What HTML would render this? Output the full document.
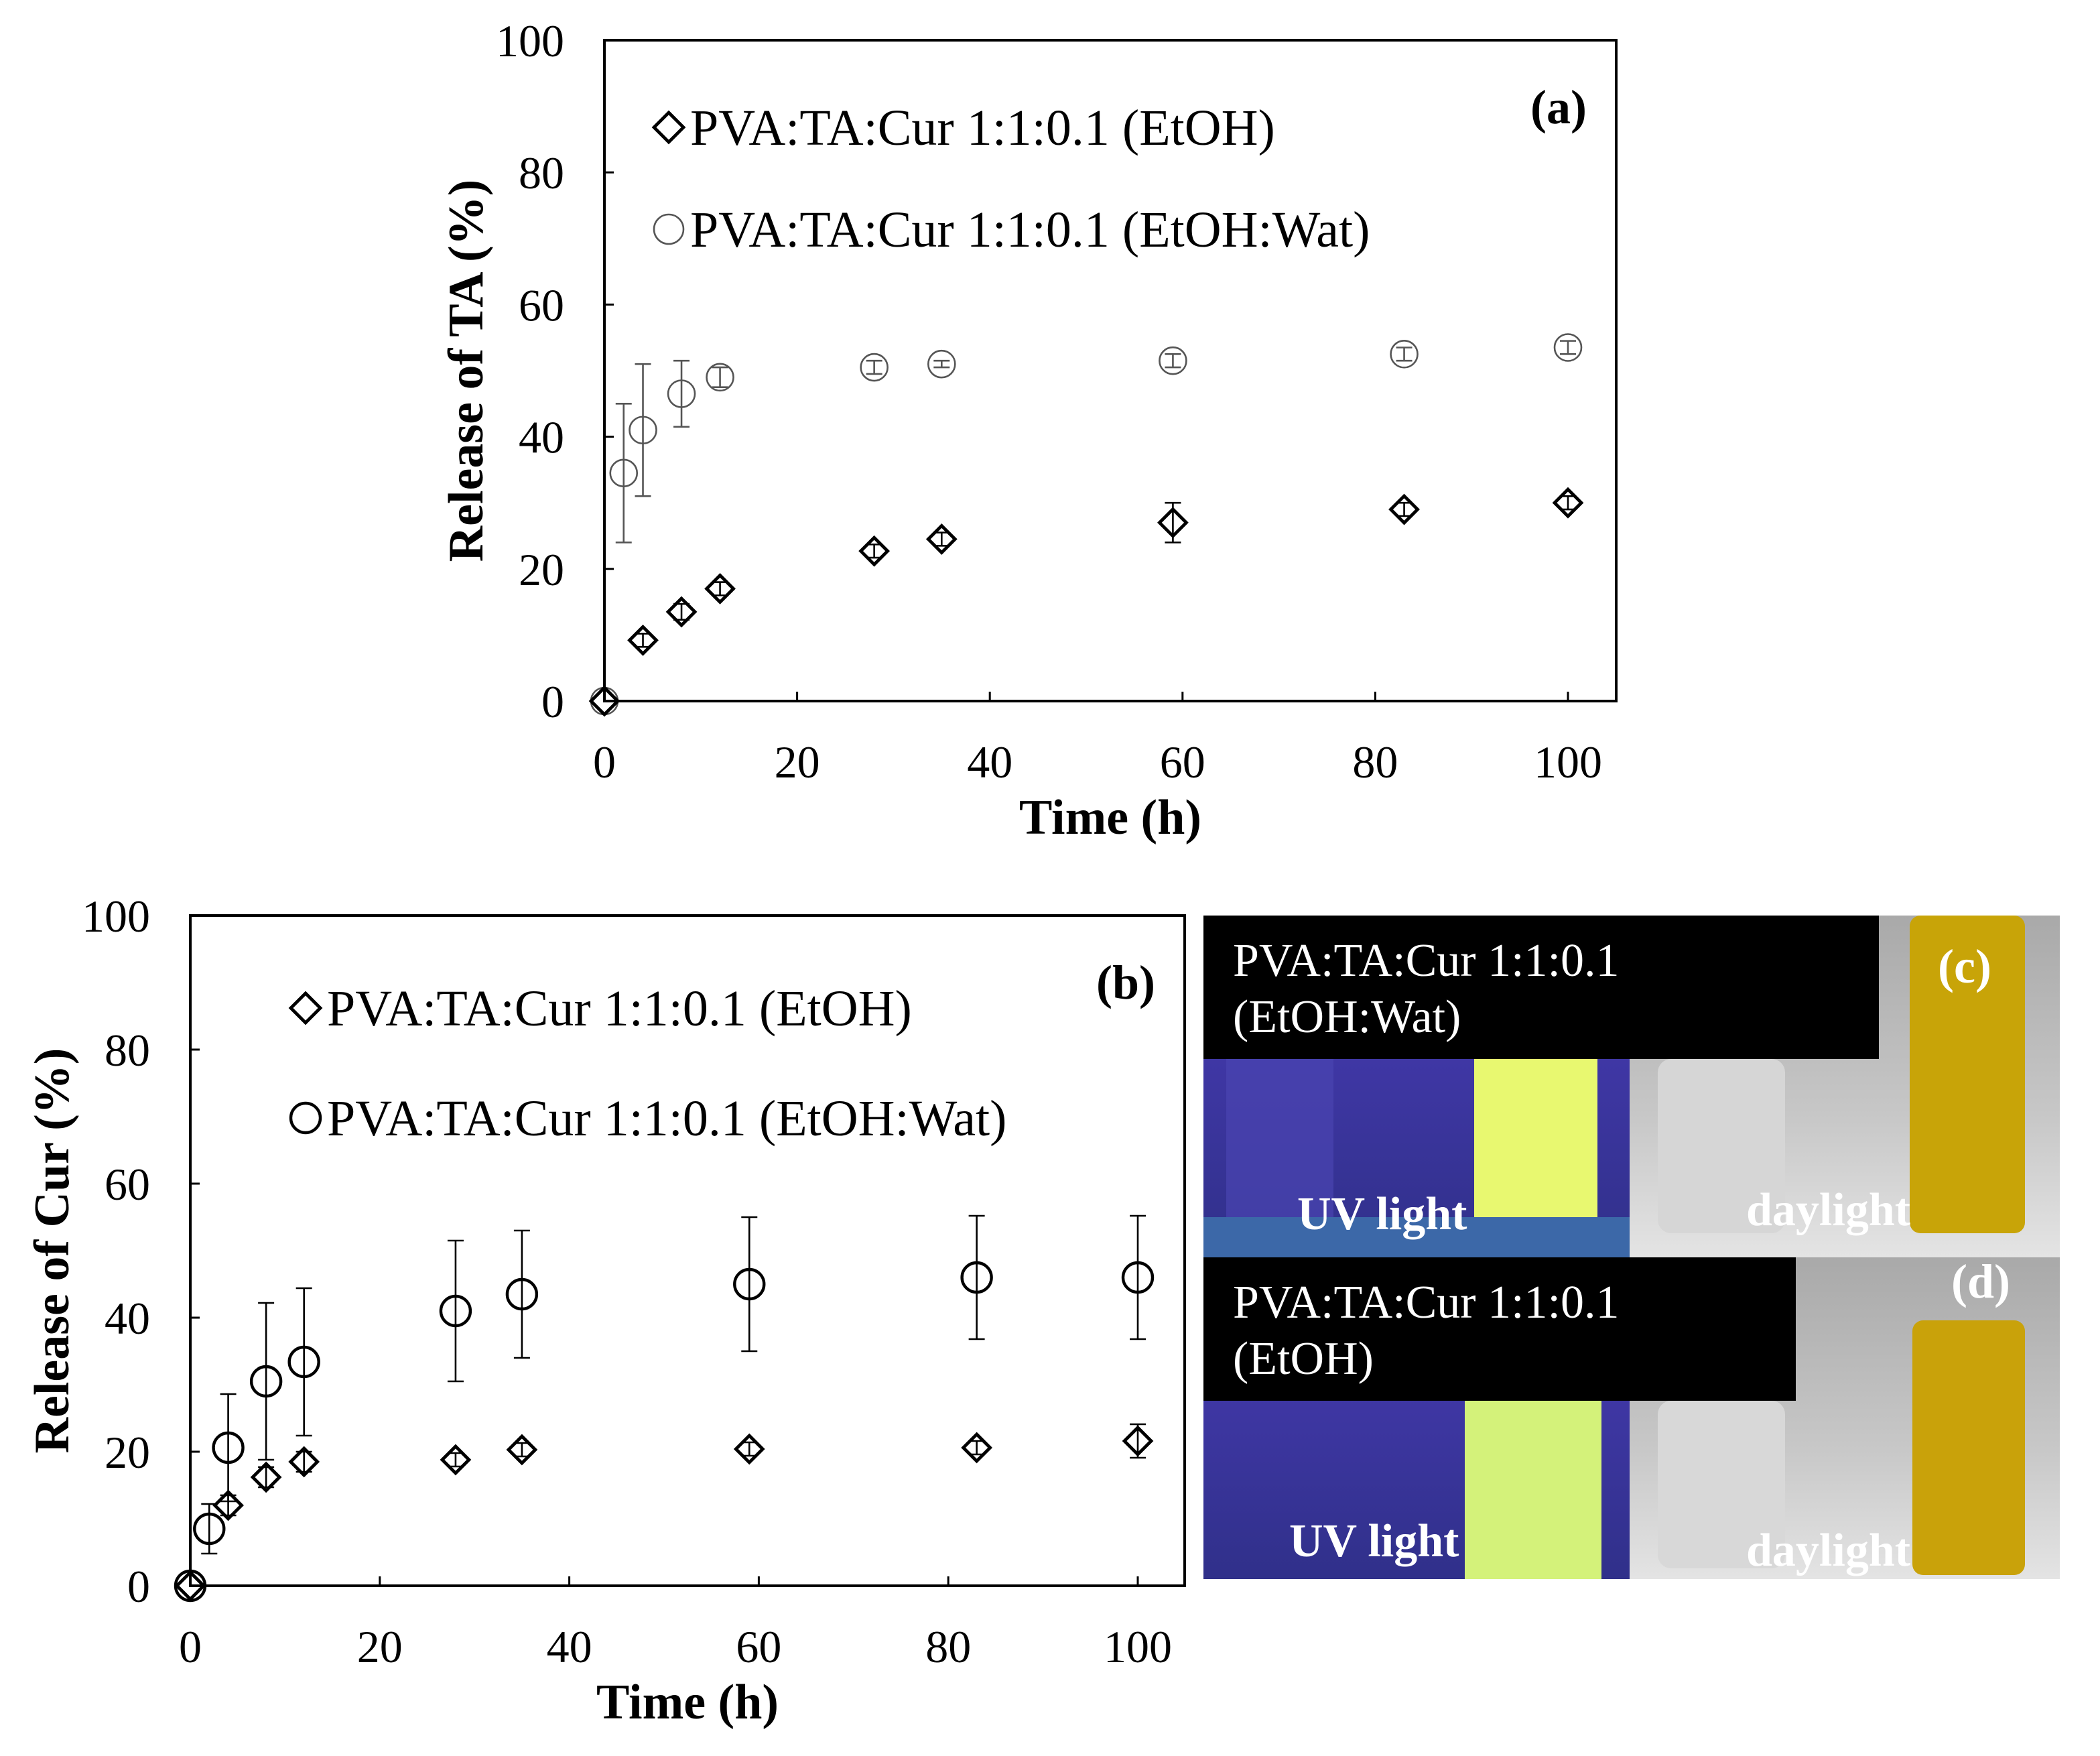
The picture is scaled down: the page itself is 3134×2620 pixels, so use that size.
<!DOCTYPE html>
<html><head><meta charset="utf-8"><style>
html,body{margin:0;padding:0;background:#fff}
svg{display:block}
text{font-family:"Liberation Serif",serif}
</style></head><body>
<svg id="fig" width="3134" height="2620" viewBox="0 0 1567 1310" preserveAspectRatio="none" xmlns="http://www.w3.org/2000/svg">
<rect width="1567" height="1310" fill="#fff"/>
<g id="chartA"></g>
<g id="chartB"></g>
<g>
  <defs>
    <linearGradient id="uv1" x1="0" x2="0" y1="0" y2="1"><stop offset="0" stop-color="#4a3cb8"/><stop offset="1" stop-color="#30308a"/></linearGradient>
    <linearGradient id="dl" x1="0" x2="0" y1="0" y2="1"><stop offset="0" stop-color="#a9a9a9"/><stop offset="0.6" stop-color="#c8c8c8"/><stop offset="1" stop-color="#e4e4e4"/></linearGradient>
  </defs>
  <rect x="898" y="683" width="318" height="255" fill="url(#uv1)"/>
  <rect x="915" y="683" width="80" height="230" fill="#4a44b0" opacity="0.7"/>
  <rect x="1100" y="683" width="92" height="235" fill="#e8f870"/>
  <rect x="898" y="908" width="318" height="30" fill="#3c68a8"/>
  <rect x="1216" y="683" width="321" height="255" fill="url(#dl)"/>
  <rect x="1237" y="790" width="95" height="130" fill="#d6d6d6" rx="10"/>
  <rect x="1425" y="683" width="86" height="237" fill="#c8a408" rx="8"/>
  <rect x="898" y="683" width="504" height="107" fill="#000"/>
  <text x="920" y="728" font-size="35" fill="#fff">PVA:TA:Cur 1:1:0.1</text>
  <text x="920" y="770" font-size="35" fill="#fff">(EtOH:Wat)</text>
  <text x="1466" y="733" font-size="36" font-weight="bold" fill="#fff" text-anchor="middle">(c)</text>
  <text x="968" y="917" font-size="35" font-weight="bold" fill="#fff">UV light</text>
  <text x="1303" y="914" font-size="35" font-weight="bold" fill="#fff">daylight</text>
  <rect x="898" y="938" width="318" height="240" fill="url(#uv1)"/>
  <rect x="1093" y="1040" width="102" height="138" fill="#d4f27a"/>
  <rect x="1216" y="938" width="321" height="240" fill="url(#dl)"/>
  <rect x="1237" y="1045" width="95" height="125" fill="#d8d8d8" rx="10"/>
  <rect x="1427" y="985" width="84" height="190" fill="#c9a20a" rx="8"/>
  <rect x="898" y="938" width="442" height="107" fill="#000"/>
  <text x="920" y="983" font-size="35" fill="#fff">PVA:TA:Cur 1:1:0.1</text>
  <text x="920" y="1025" font-size="35" fill="#fff">(EtOH)</text>
  <text x="1478" y="968" font-size="36" font-weight="bold" fill="#fff" text-anchor="middle">(d)</text>
  <text x="962" y="1161" font-size="35" font-weight="bold" fill="#fff">UV light</text>
  <text x="1303" y="1168" font-size="35" font-weight="bold" fill="#fff">daylight</text>
</g>
</svg>
<script>
const timeA = [0,4,8,12,28,35,59,83,100];
const etohA = [0,9.2,13.5,17,22.7,24.5,27,29,30];
const etohAErr = [0,1,1.2,1,1,1,3,1,1];
const timeAW = [0,2,4,8,12,28,35,59,83,100];
const watA = [0,34.5,41,46.5,49,50.5,51,51.5,52.5,53.5];
const watAErr = [0,10.5,10,5,1.5,1,0.5,1,1,1];
const timeB = [0,4,8,12,28,35,59,83,100];
const etohB = [0,12,16.2,18.5,18.8,20.3,20.4,20.6,21.6];
const etohBErr = [0,1.5,1.5,1.5,1,1,1,1,2.5];
const timeBW = [0,2,4,8,12,28,35,59,83,100];
const watB = [0,8.5,20.6,30.5,33.4,41,43.5,45,46,46];
const watBErr = [0,3.7,8,11.7,11,10.5,9.5,10,9.2,9.2];
const xTicks = [0,20,40,60,80,100];
const yTicks = [0,20,40,60,80,100];
const NS="http://www.w3.org/2000/svg";
function mk(p,tag,attrs,txt){const e=document.createElementNS(NS,tag);for(const k in attrs)e.setAttribute(k,attrs[k]);if(txt!==undefined)e.textContent=txt;p.appendChild(e);return e;}
function chart(g,box,x0,x100,y0,y100,opts){
  const sx=v=>x0+(x100-x0)*v/100, sy=v=>y0+(y100-y0)*v/100;
  const fr=mk(g,'rect',{x:box[0],y:box[1],width:box[2]-box[0],height:box[3]-box[1],fill:'none',stroke:'#000','stroke-width':2});
  
  xTicks.forEach(t=>{const X=sx(t);mk(g,'line',{x1:X,x2:X,y1:box[3],y2:box[3]-7,stroke:'#000','stroke-width':1.5});
    const l=mk(g,'text',{x:X,y:box[3]+57,'font-size':34,'text-anchor':'middle'},t);});
  yTicks.forEach(t=>{const Y=sy(t);mk(g,'line',{x1:box[0],x2:box[0]+7,y1:Y,y2:Y,stroke:'#000','stroke-width':1.5});
    const l=mk(g,'text',{x:box[0]-30,y:Y+12,'font-size':34,'text-anchor':'end'},t);});
  const xt=mk(g,'text',{x:(box[0]+box[2])/2,y:box[3]+99,'font-size':37,'font-weight':'bold','text-anchor':'middle'},'Time (h)');
  
  const yx=box[0]-91, yy=(box[1]+box[3])/2;
  const yt=mk(g,'text',{x:yx,y:yy,'font-size':37,'font-weight':'bold','text-anchor':'middle',transform:`rotate(-90 ${yx} ${yy})`},opts.ytitle);
  
  const pl=mk(g,'text',{x:box[2]-22,y:box[1]+62,'font-size':36,'font-weight':'bold','text-anchor':'end'},opts.label);
  
  function err(ts,vs,es,col){ts.forEach((t,i)=>{if(!es[i])return;const X=sx(t),a=sy(vs[i]+es[i]),b=sy(vs[i]-es[i]);
    const e=mk(g,'path',{d:`M${X},${a}V${b}M${X-6},${a}H${X+6}M${X-6},${b}H${X+6}`,stroke:col,'stroke-width':1.3,fill:'none'});
    });}
  function dia(x,y,r,col){return mk(g,'path',{d:`M${x},${y-r}L${x+r},${y}L${x},${y+r}L${x-r},${y}Z`,fill:'none',stroke:col,'stroke-width':2.4});}
  err(opts.tw,opts.w,opts.we,opts.wcol);
  opts.tw.forEach((t,i)=>{const c=mk(g,'circle',{cx:sx(t),cy:sy(opts.w[i]),r:opts.cr,fill:'none',stroke:opts.wcol,'stroke-width':opts.cw});
    });
  err(opts.te,opts.e,opts.ee,'#000');
  opts.te.forEach((t,i)=>{const d=dia(sx(t),sy(opts.e[i]),opts.dr,'#000');});
  const L=opts.leg;
  const d=dia(L[0],L[1],11,'#000');
  const t1=mk(g,'text',{x:L[0]+16,y:L[1]+13,'font-size':38},'PVA:TA:Cur 1:1:0.1 (EtOH)');
  const c=mk(g,'circle',{cx:L[0],cy:L[2],r:11,fill:'none',stroke:opts.wcol,'stroke-width':opts.cw});
  const t2=mk(g,'text',{x:L[0]+16,y:L[2]+13,'font-size':38},'PVA:TA:Cur 1:1:0.1 (EtOH:Wat)');
}
chart(document.getElementById('chartA'),[451,30,1206,523],451,1170,523,30,
 {ytitle:'Release of TA (%)',label:'(a)',tw:timeAW,w:watA,we:watAErr,te:timeA,e:etohA,ee:etohAErr,wcol:'#555',cr:10,cw:1.3,dr:10,leg:[499,95,171]});
chart(document.getElementById('chartB'),[142,683,884,1183],142,849,1183,683,
 {ytitle:'Release of Cur (%)',label:'(b)',tw:timeBW,w:watB,we:watBErr,te:timeB,e:etohB,ee:etohBErr,wcol:'#000',cr:11,cw:2.2,dr:10,leg:[228,752,834]});
</script>
</body></html>
